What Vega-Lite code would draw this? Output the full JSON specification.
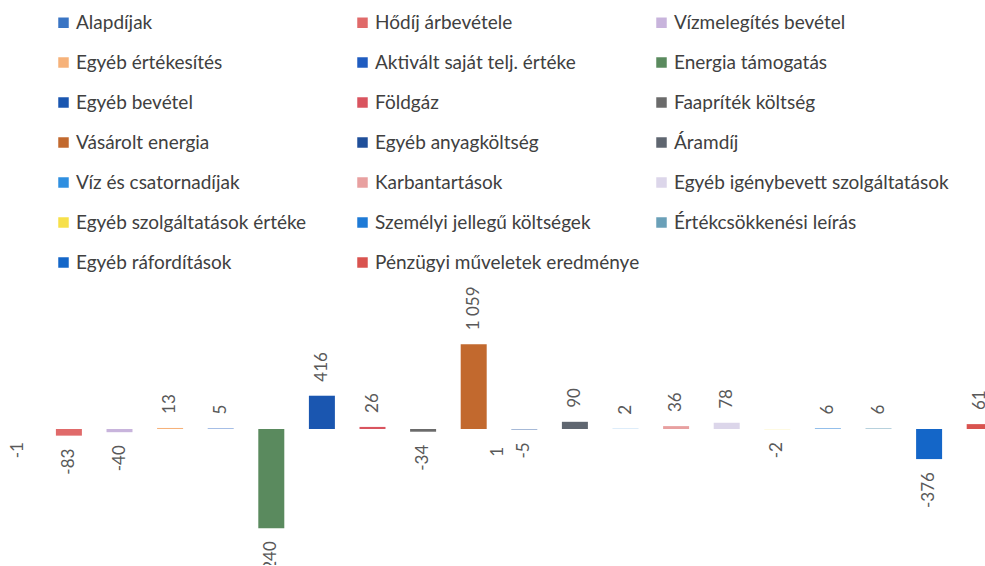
{
  "$schema": "https://vega.github.io/schema/vega-lite/v6.json",
  "width": 985,
  "height": 272,
  "autosize": {"type": "none"},
  "padding": {"top": 293, "left": 0, "right": 0, "bottom": 0},
  "background": "white",
  "config": {
    "view": {"stroke": null},
    "font": "Lato",
    "locale": {"number": {"decimal": ",", "thousands": " ", "grouping": [3], "currency": ["", ""], "minus": "-"}}
  },
  "data": {
    "values": [
      {"item": "Alapdíjak", "value": -1},
      {"item": "Hődíj árbevétele", "value": -83},
      {"item": "Vízmelegítés bevétel", "value": -40},
      {"item": "Egyéb értékesítés", "value": 13},
      {"item": "Aktivált saját telj. értéke", "value": 5},
      {"item": "Energia támogatás", "value": -1240},
      {"item": "Egyéb bevétel", "value": 416},
      {"item": "Földgáz", "value": 26},
      {"item": "Faapríték költség", "value": -34},
      {"item": "Vásárolt energia", "value": 1059},
      {"item": "Egyéb anyagköltség", "value": -5},
      {"item": "Áramdíj", "value": 90},
      {"item": "Víz és csatornadíjak", "value": 2},
      {"item": "Karbantartások", "value": 36},
      {"item": "Egyéb igénybevett szolgáltatások", "value": 78},
      {"item": "Egyéb szolgáltatások értéke", "value": -2},
      {"item": "Személyi jellegű költségek", "value": 6},
      {"item": "Értékcsökkenési leírás", "value": 6},
      {"item": "Egyéb ráfordítások", "value": -376},
      {"item": "Pénzügyi műveletek eredménye", "value": 61}
    ]
  },
  "encoding": {
    "x": {
      "field": "item",
      "type": "nominal",
      "sort": null,
      "scale": {"range": [-7, 1005], "paddingInner": 0, "paddingOuter": 0},
      "axis": null
    }
  },
  "layer": [
    {
      "mark": {"type": "bar", "size": 26},
      "encoding": {
        "y": {"field": "value", "type": "quantitative", "scale": {"domain": [-1700, 1700], "nice": false}, "axis": null},
        "color": {
          "field": "item",
          "type": "nominal",
          "scale": {
            "domain": ["Alapdíjak", "Hődíj árbevétele", "Vízmelegítés bevétel", "Egyéb értékesítés", "Aktivált saját telj. értéke", "Energia támogatás", "Egyéb bevétel", "Földgáz", "Faapríték költség", "Vásárolt energia", "Egyéb anyagköltség", "Áramdíj", "Víz és csatornadíjak", "Karbantartások", "Egyéb igénybevett szolgáltatások", "Egyéb szolgáltatások értéke", "Személyi jellegű költségek", "Értékcsökkenési leírás", "Egyéb ráfordítások", "Pénzügyi műveletek eredménye"],
            "range": ["#3a75c4", "#e06a6a", "#c8b4dc", "#f6b27a", "#1f5cc0", "#5a8a5e", "#1a56b0", "#d9545f", "#6b6b6b", "#c2692e", "#1f4f9a", "#5f6670", "#2f8fe0", "#e8a0a0", "#dcd6ea", "#f7e04a", "#1e7ad6", "#6aa0b8", "#1466c8", "#d9534f"]
          },
          "legend": {
            "orient": "none",
            "legendX": 54,
            "legendY": -280,
            "direction": "horizontal",
            "columns": 3,
            "gridAlign": "all",
            "title": null,
            "symbolType": "square",
            "symbolSize": 110,
            "symbolStrokeWidth": 0,
            "labelFontSize": 19,
            "labelColor": "#404040",
            "labelFont": "Lato",
            "rowPadding": 20,
            "columnPadding": 2,
            "labelOffset": 3,
            "labelLimit": 400
          }
        }
      }
    },
    {
      "transform": [{"filter": "datum.value >= 0"}],
      "mark": {"type": "text", "angle": 270, "align": "left", "baseline": "middle", "dx": 14, "fontSize": 17, "color": "#595959"},
      "encoding": {
        "y": {"field": "value", "type": "quantitative"},
        "text": {"field": "value", "type": "quantitative", "format": ",d"}
      }
    },
    {
      "transform": [{"filter": "datum.value < 0"}],
      "mark": {"type": "text", "angle": 270, "align": "right", "baseline": "middle", "dx": -13, "fontSize": 17, "color": "#595959"},
      "encoding": {
        "y": {"field": "value", "type": "quantitative"},
        "text": {"field": "value", "type": "quantitative", "format": ",d"}
      }
    },
    {
      "data": {"values": [{"item": "Vásárolt energia", "value": 1}]},
      "mark": {"type": "text", "angle": 270, "align": "right", "baseline": "middle", "dx": -18, "xOffset": 24, "fontSize": 17, "color": "#595959"},
      "encoding": {
        "y": {"field": "value", "type": "quantitative"},
        "text": {"field": "value", "type": "quantitative", "format": ",d"}
      }
    }
  ]
}
